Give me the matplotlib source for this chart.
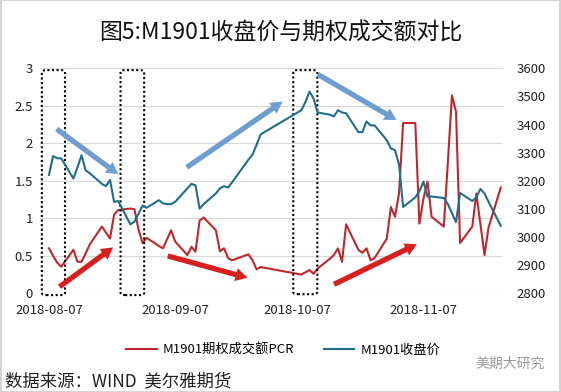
import numpy as np
import pandas as pd
import matplotlib
matplotlib.use('Agg')
import matplotlib.pyplot as plt
import matplotlib.dates as mdates
from matplotlib.patches import FancyBboxPatch, Rectangle

plt.rcParams['font.family'] = ['Noto Sans CJK SC', 'DejaVu Sans']

# trading days shown in the chart
dates = pd.to_datetime([
    '2018-08-07', '2018-08-08', '2018-08-09', '2018-08-10', '2018-08-13', '2018-08-14',
    '2018-08-15', '2018-08-16', '2018-08-17', '2018-08-20', '2018-08-21', '2018-08-22',
    '2018-08-23', '2018-08-24', '2018-08-27', '2018-08-28', '2018-08-29', '2018-08-30',
    '2018-08-31', '2018-09-03', '2018-09-04', '2018-09-05', '2018-09-06', '2018-09-07',
    '2018-09-10', '2018-09-11', '2018-09-12', '2018-09-13', '2018-09-14', '2018-09-17',
    '2018-09-18', '2018-09-19', '2018-09-20', '2018-09-21', '2018-09-25', '2018-09-26',
    '2018-09-27', '2018-09-28', '2018-10-08', '2018-10-09', '2018-10-10', '2018-10-11',
    '2018-10-12', '2018-10-15', '2018-10-16', '2018-10-17', '2018-10-18', '2018-10-19',
    '2018-10-22', '2018-10-23', '2018-10-24', '2018-10-25', '2018-10-26', '2018-10-29',
    '2018-10-30', '2018-10-31', '2018-11-01', '2018-11-02', '2018-11-05', '2018-11-06',
    '2018-11-07', '2018-11-08', '2018-11-09', '2018-11-12', '2018-11-13', '2018-11-14',
    '2018-11-15', '2018-11-16', '2018-11-19', '2018-11-20', '2018-11-21', '2018-11-22',
    '2018-11-23', '2018-11-26'])

# M1901 option turnover PCR (left axis)
pcr = [0.60, 0.50, 0.41, 0.355, 0.58, 0.42, 0.42, 0.53, 0.65, 0.89, 0.81, 0.73,
       1.05, 1.11, 1.13, 1.12, 0.85, 0.67, 0.74, 0.63, 0.60, 0.72, 0.84, 0.69,
       0.51, 0.62, 0.555, 0.97, 1.01, 0.84, 0.56, 0.60, 0.47, 0.44, 0.52, 0.44,
       0.32, 0.35, 0.25, 0.28, 0.31, 0.26, 0.33, 0.46, 0.51, 0.60, 0.42, 0.92,
       0.58, 0.54, 0.60, 0.44, 0.47, 0.73, 1.15, 1.02, 1.33, 2.27, 2.27, 0.93,
       1.26, 1.49, 1.02, 0.89, 1.75, 2.64, 2.42, 0.67, 0.89, 1.33, 0.92, 0.51,
       0.88, 1.41]

# M1901 close price (right axis)
close = [3221, 3288, 3280, 3280, 3208, 3248, 3291, 3237, 3227, 3189, 3181, 3203,
         3125, 3128, 3045, 3055, 3083, 3112, 3104, 3131, 3120, 3117, 3117, 3125,
         3173, 3189, 3184, 3101, 3117, 3155, 3173, 3181, 3176, 3195, 3275, 3293,
         3328, 3365, 3451, 3480, 3517, 3493, 3443, 3435, 3429, 3451, 3443, 3440,
         3373, 3373, 3411, 3397, 3397, 3344, 3315, 3309, 3259, 3107, 3141, 3163,
         3197, 3144, 3144, 3139, 3117, 3085, 3053, 3157, 3128, 3141, 3171, 3155,
         3125, 3040]

left_ticks = [0, 0.5, 1, 1.5, 2, 2.5, 3]
right_ticks = [2800, 2900, 3000, 3100, 3200, 3300, 3400, 3500, 3600]
x_ticks = pd.to_datetime(['2018-08-07', '2018-09-07', '2018-10-07', '2018-11-07'])

red = '#C0272D'
blue = '#1F6F8B'

fig = plt.figure(figsize=(5.61, 3.92), dpi=100)
ax = fig.add_axes([0.0713, 0.2518, 0.8253, 0.574])
ax2 = ax.twinx()

l1, = ax.plot(dates, pcr, color=red, lw=1.5, label='M1901期权成交额PCR')
l2, = ax2.plot(dates, close, color=blue, lw=1.5, label='M1901收盘价')

ax.set_ylim(0, 3)
ax2.set_ylim(2800, 3600)
ax.set_yticks(left_ticks)
ax.set_yticklabels(['%g' % v for v in left_ticks])
ax2.set_yticks(right_ticks)
ax.set_xlim(dates[0] - pd.Timedelta(hours=53), dates[0] + pd.Timedelta(hours=2677))
ax.set_xticks(x_ticks)
ax.xaxis.set_major_formatter(mdates.DateFormatter('%Y-%m-%d'))

ax.grid(axis='y', color='#D9D9D9', lw=0.8)
ax.set_axisbelow(True)
for a in (ax, ax2):
    for s in a.spines.values():
        s.set_visible(False)
ax.tick_params(axis='both', length=0, labelsize=9.5, colors='#222222')
ax.tick_params(axis='y', pad=5)
ax.tick_params(axis='x', pad=8)
ax2.tick_params(axis='y', length=0, labelsize=9.5, colors='#222222', pad=10)

# dotted boxes
for x0, x1, y0, y1 in [(0.004, 0.054, -0.008, 0.992), (0.174, 0.225, -0.008, 0.992),
                       (0.547, 0.599, -0.004, 0.992)]:
    ax.add_patch(FancyBboxPatch((x0, y0), x1 - x0, y1 - y0, boxstyle='round,pad=0,rounding_size=0.01',
                                transform=ax.transAxes, fill=False, ec='black', lw=1.5,
                                ls=(0, (1, 1.2)), clip_on=False, zorder=5))

# trend arrows
arrow_style = 'simple,head_width=0.95,head_length=0.85,tail_width=0.38'
for start, end, c in [((0.036, 0.730), (0.169, 0.529), '#6E9ED0'),
                      ((0.317, 0.560), (0.524, 0.852), '#6E9ED0'),
                      ((0.600, 0.973), (0.770, 0.770), '#6E9ED0'),
                      ((0.042, 0.029), (0.158, 0.204), '#D81E1E'),
                      ((0.276, 0.166), (0.448, 0.069), '#D81E1E'),
                      ((0.635, 0.040), (0.814, 0.218), '#D81E1E')]:
    ax2.annotate('', xy=end, xytext=start, xycoords='axes fraction', textcoords='axes fraction',
                 arrowprops=dict(arrowstyle=arrow_style, color=c, mutation_scale=10,
                                 shrinkA=0, shrinkB=0, lw=0), zorder=6)

fig.text(0.5, 1 - 33 / 392, '图5:M1901收盘价与期权成交额对比', ha='center', va='center',
         fontsize=16.5, color='#111111')

fig.legend(handles=[l1, l2], loc='center', bbox_to_anchor=(0.505, 1 - 350 / 392), ncol=2,
           frameon=False, fontsize=9.5, handlelength=2.3, columnspacing=2.2, handletextpad=0.5)

fig.text(5 / 561, 1 - 381 / 392, '数据来源：WIND  美尔雅期货', ha='left', va='center',
         fontsize=12.5, fontweight='light', color='#222222')
fig.text(475 / 561, 1 - 364 / 392, '美期大研究', ha='left', va='center', fontsize=10, color='#9A9A9A')

fig.patches.append(Rectangle((0.001, 0.001), 0.998, 0.998, transform=fig.transFigure,
                             fill=False, ec='#CCCCCC', lw=1.2))

fig.savefig('out.png', dpi=100)
